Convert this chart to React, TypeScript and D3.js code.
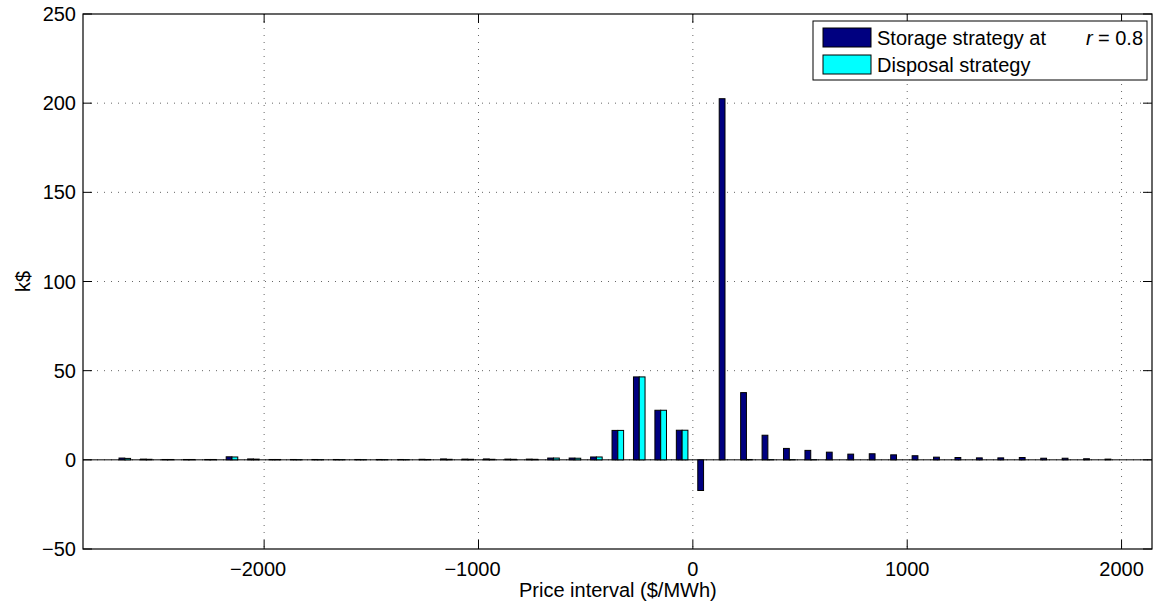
import React, { useEffect, useRef } from 'react';
import * as d3 from 'd3';

// bin centres of the price intervals ($/MWh)
const binCenters = [
  -2650, -2550, -2450, -2350, -2250, -2150, -2050, -1950, -1850, -1750,
  -1650, -1550, -1450, -1350, -1250, -1150, -1050, -950, -850, -750,
  -650, -550, -450, -350, -250, -150, -50, 50, 150, 250,
  350, 450, 550, 650, 750, 850, 950, 1050, 1150, 1250,
  1350, 1450, 1550, 1650, 1750, 1850, 1950,
];

// k$ per interval, storage strategy at r = 0.8
const storageValues = [
  1.0, 0.4, 0.2, 0.2, 0.2, 1.7, 0.5, 0.2, 0.2, 0.2,
  0.2, 0.2, 0.2, 0.2, 0.3, 0.5, 0.4, 0.5, 0.4, 0.4,
  1.0, 1.0, 1.6, 16.5, 46.5, 27.8, 16.6, -17.2, 202.5, 37.7,
  13.8, 6.4, 5.3, 4.3, 3.2, 3.4, 2.8, 2.3, 1.5, 1.3,
  1.1, 1.1, 1.3, 0.9, 0.9, 0.6, 0.4,
];

// k$ per interval, disposal strategy
const disposalValues = [
  0.8, 0.3, 0.2, 0.2, 0.2, 1.6, 0.4, 0.2, 0.1, 0.1,
  0.1, 0.1, 0.1, 0.1, 0.2, 0.3, 0.3, 0.3, 0.3, 0.3,
  1.0, 0.9, 1.6, 16.5, 46.5, 27.8, 16.6, 0, 0, 0.2,
  0.1, 0.1, 0.1, 0, 0, 0, 0, 0, 0, 0,
  0, 0, 0, 0, 0, 0, 0,
];

const xTicks = [-2000, -1000, 0, 1000, 2000];
const yTicks = [-50, 0, 50, 100, 150, 200, 250];

const seriesNames = ['Storage strategy at', 'Disposal strategy'];
const seriesColors = ['#000080', '#00ffff'];

const WIDTH = 1156;
const HEIGHT = 606;
const FONT = '"Liberation Sans", Arial, Helvetica, sans-serif';

const BarChart = () => {
  const svgRef = useRef(null);

  useEffect(() => {
    const svg = d3.select(svgRef.current);
    svg.selectAll('*').remove();

    const margin = { top: 14, right: 4, bottom: 57, left: 83 };
    const innerWidth = WIDTH - margin.left - margin.right;
    const innerHeight = HEIGHT - margin.top - margin.bottom;

    const xScale = d3.scaleLinear().domain([-2845, 2142]).range([0, innerWidth]);
    const yScale = d3.scaleLinear().domain([-50, 250]).range([innerHeight, 0]);

    const g = svg.append('g')
      .attr('transform', `translate(${margin.left},${margin.top})`);

    // dotted grid
    g.append('g').selectAll('line')
      .data(xTicks)
      .enter().append('line')
      .attr('x1', d => xScale(d)).attr('x2', d => xScale(d))
      .attr('y1', 0).attr('y2', innerHeight)
      .attr('stroke', '#666').attr('stroke-width', 1)
      .attr('stroke-dasharray', '1,6');

    g.append('g').selectAll('line')
      .data(yTicks.filter(d => d > -50 && d < 250))
      .enter().append('line')
      .attr('y1', d => yScale(d)).attr('y2', d => yScale(d))
      .attr('x1', 0).attr('x2', innerWidth)
      .attr('stroke', '#666').attr('stroke-width', 1)
      .attr('stroke-dasharray', '1,6');

    // zero baseline
    g.append('line')
      .attr('x1', 0).attr('x2', innerWidth)
      .attr('y1', yScale(0)).attr('y2', yScale(0))
      .attr('stroke', '#000').attr('stroke-width', 1);

    // grouped bars
    const barW = xScale(27) - xScale(0);
    const bars = g.append('g');
    [storageValues, disposalValues].forEach((vals, si) => {
      bars.selectAll(`.bar-${si}`)
        .data(vals.map((v, i) => ({ c: binCenters[i], v })))
        .enter().append('rect')
        .attr('class', `bar-${si}`)
        .attr('x', d => (si === 0 ? xScale(d.c) - barW : xScale(d.c)))
        .attr('width', barW)
        .attr('y', d => yScale(Math.max(0, d.v)))
        .attr('height', d => Math.abs(yScale(d.v) - yScale(0)))
        .attr('fill', seriesColors[si])
        .attr('stroke', '#000')
        .attr('stroke-width', 1);
    });

    // axes frame
    g.append('rect')
      .attr('x', 0).attr('y', 0)
      .attr('width', innerWidth).attr('height', innerHeight)
      .attr('fill', 'none').attr('stroke', '#000').attr('stroke-width', 1.2);

    const tickLen = 9;
    const ticks = g.append('g').attr('stroke', '#000').attr('stroke-width', 1);
    xTicks.forEach(t => {
      ticks.append('line')
        .attr('x1', xScale(t)).attr('x2', xScale(t))
        .attr('y1', innerHeight).attr('y2', innerHeight - tickLen);
      ticks.append('line')
        .attr('x1', xScale(t)).attr('x2', xScale(t))
        .attr('y1', 0).attr('y2', tickLen);
    });
    yTicks.forEach(t => {
      ticks.append('line')
        .attr('x1', 0).attr('x2', tickLen)
        .attr('y1', yScale(t)).attr('y2', yScale(t));
      ticks.append('line')
        .attr('x1', innerWidth).attr('x2', innerWidth - tickLen)
        .attr('y1', yScale(t)).attr('y2', yScale(t));
    });

    const fmt = (d: number) => (d < 0 ? '\u2212' + Math.abs(d) : String(d));

    // tick labels
    g.append('g').selectAll('text')
      .data(xTicks)
      .enter().append('text')
      .attr('x', d => xScale(d) - (d < 0 ? 6 : 0))
      .attr('y', innerHeight + 27)
      .attr('text-anchor', 'middle')
      .style('font-family', FONT).style('font-size', '20px')
      .text(fmt);

    g.append('g').selectAll('text')
      .data(yTicks)
      .enter().append('text')
      .attr('x', -7)
      .attr('y', d => yScale(d) + 7)
      .attr('text-anchor', 'end')
      .style('font-family', FONT).style('font-size', '20px')
      .text(fmt);

    // axis labels
    g.append('text')
      .attr('x', xScale(0) - 75)
      .attr('y', innerHeight + 48)
      .attr('text-anchor', 'middle')
      .style('font-family', FONT).style('font-size', '20px')
      .text('Price interval ($/MWh)');

    g.append('text')
      .attr('transform', 'rotate(-90)')
      .attr('x', -yScale(100))
      .attr('y', -53)
      .attr('text-anchor', 'middle')
      .style('font-family', FONT).style('font-size', '20px')
      .text('k$');

    // legend
    const legend = svg.append('g').attr('transform', 'translate(813, 21)');
    legend.append('rect')
      .attr('width', 334).attr('height', 59)
      .attr('fill', '#fff').attr('stroke', '#000').attr('stroke-width', 1);

    seriesNames.forEach((name, i) => {
      const y = 7 + i * 27;
      legend.append('rect')
        .attr('x', 10).attr('y', y)
        .attr('width', 48).attr('height', 19)
        .attr('fill', seriesColors[i]).attr('stroke', '#000');
      const t = legend.append('text')
        .attr('x', 64).attr('y', y + 17)
        .style('font-family', FONT).style('font-size', '20px');
      t.append('tspan').text(name);
      if (i === 0) {
        t.append('tspan').attr('x', 273).style('font-style', 'italic').text('r');
        t.append('tspan').attr('x', 285).text('= 0.8');
      }
    });
  }, []);

  return (
    <svg
      ref={svgRef}
      width={WIDTH}
      height={HEIGHT}
      style={{ position: 'absolute', left: 0, top: 0, background: '#fff' }}
    />
  );
};

export default function App() {
  return <BarChart />;
}
